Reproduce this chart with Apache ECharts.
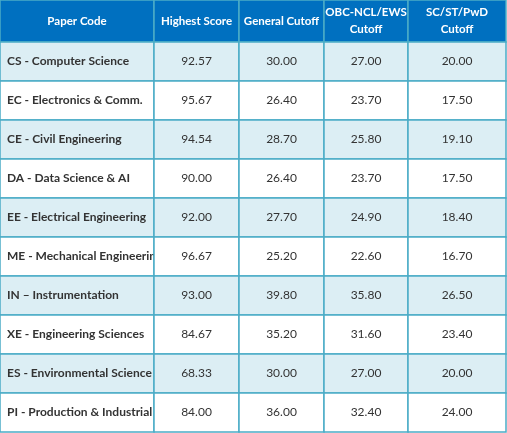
<!DOCTYPE html>
<html><head><meta charset="utf-8">
<script src="https://cdn.jsdelivr.net/npm/echarts@6/dist/echarts.min.js"></script>
<style>html,body{margin:0;padding:0;background:#fff}#c{width:507px;height:433px}</style>
</head><body><div id="c"></div>
<script>
const headers = ["Paper Code", "Highest Score", "General Cutoff", "OBC-NCL/EWS\nCutoff", "SC/ST/PwD\nCutoff"];
const papers = ["CS - Computer Science", "EC - Electronics & Comm.", "CE - Civil Engineering", "DA - Data Science & AI",
  "EE - Electrical Engineering", "ME - Mechanical Engineering", "IN \u2013 Instrumentation", "XE - Engineering Sciences",
  "ES - Environmental Science", "PI - Production & Industrial"];
const highest = [92.57, 95.67, 94.54, 90.00, 92.00, 96.67, 93.00, 84.67, 68.33, 84.00];
const general = [30.00, 26.40, 28.70, 26.40, 27.70, 25.20, 39.80, 35.20, 30.00, 36.00];
const obc = [27.00, 23.70, 25.80, 23.70, 24.90, 22.60, 35.80, 31.60, 27.00, 32.40];
const sc = [20.00, 17.50, 19.10, 17.50, 18.40, 16.70, 26.50, 23.40, 20.00, 24.00];

// layout: column edges (px) and row edges in table units
const colEdges = [0, 154, 239, 324, 408, 506];
const headH = 42 / 39; // header height relative to a body row

const cells = [];
headers.forEach((h, c) => cells.push([c, -1, h]));
papers.forEach((p, r) => {
  [p, highest[r].toFixed(2), general[r].toFixed(2), obc[r].toFixed(2), sc[r].toFixed(2)]
    .forEach((v, c) => cells.push([c, r, v]));
});
function rowTop(r) { return r < 0 ? 0 : headH + r; }
function rowBot(r) { return r < 0 ? headH : headH + r + 1; }

const chart = echarts.init(document.getElementById("c"));
chart.setOption({
  animation: false,
  grid: { left: 0, right: 0, top: 0, bottom: 1 },
  xAxis: { type: "value", min: 0, max: 507, show: false },
  yAxis: { type: "value", min: 0, max: headH + 10, inverse: true, show: false },
  series: [{
    type: "custom",
    data: cells,
    renderItem: (params, api) => {
      const c = api.value(0), r = api.value(1);
      const text = cells[params.dataIndex][2];
      const p0 = api.coord([colEdges[c], rowTop(r)]);
      const p1 = api.coord([colEdges[c + 1], rowBot(r)]);
      const head = r < 0;
      const fill = head ? "#0070C0" : (r % 2 === 0 ? "#DCEEF4" : "#ffffff");
      const left = c === 0 && !head;
      return {
        type: "group",
        children: [
          { type: "rect", shape: { x: p0[0], y: p0[1], width: p1[0] - p0[0], height: p1[1] - p0[1] },
            style: { fill: fill, stroke: "#4BACC6", lineWidth: 1.5 } },
          { type: "text",
            style: {
              x: left ? p0[0] + 7 : (p0[0] + p1[0]) / 2, y: (p0[1] + p1[1]) / 2,
              text: text, align: left ? "left" : "center", verticalAlign: "middle",
              fill: head ? "#ffffff" : "#333333", lineHeight: 17,
              font: (head || c === 0 ? "bold " : "") + (head ? "11.5px" : "12px") + " Lato, sans-serif"
            } }
        ]
      };
    }
  }]
});
</script></body></html>
